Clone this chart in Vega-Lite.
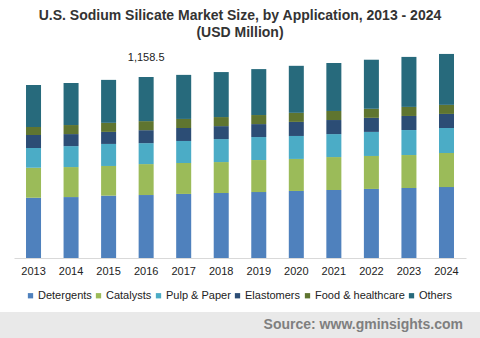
{
  "$schema": "https://vega.github.io/schema/vega-lite/v6.json",
  "padding": {"top": 9, "left": 0, "right": 0, "bottom": 0},
  "background": "white",
  "spacing": 0,
  "center": true,
  "resolve": {"legend": {"color": "independent"}},
  "title": {
    "text": ["U.S. Sodium Silicate Market Size, by Application, 2013 - 2024", "(USD Million)"],
    "font": "Liberation Sans",
    "fontSize": 14,
    "fontWeight": "bold",
    "color": "#333333",
    "anchor": "middle",
    "lineHeight": 17,
    "offset": 3
  },
  "config": {
    "view": {"stroke": null},
    "font": "Liberation Sans"
  },
  "datasets": {
    "market": [
      {"year": "2013", "application": "Detergents", "rank": 1, "value": 386},
      {"year": "2013", "application": "Catalysts", "rank": 2, "value": 192},
      {"year": "2013", "application": "Pulp & Paper", "rank": 3, "value": 126},
      {"year": "2013", "application": "Elastomers", "rank": 4, "value": 83},
      {"year": "2013", "application": "Food & healthcare", "rank": 5, "value": 51},
      {"year": "2013", "application": "Others", "rank": 6, "value": 269},
      {"year": "2014", "application": "Detergents", "rank": 1, "value": 390},
      {"year": "2014", "application": "Catalysts", "rank": 2, "value": 192},
      {"year": "2014", "application": "Pulp & Paper", "rank": 3, "value": 134},
      {"year": "2014", "application": "Elastomers", "rank": 4, "value": 77},
      {"year": "2014", "application": "Food & healthcare", "rank": 5, "value": 58},
      {"year": "2014", "application": "Others", "rank": 6, "value": 269},
      {"year": "2015", "application": "Detergents", "rank": 1, "value": 399},
      {"year": "2015", "application": "Catalysts", "rank": 2, "value": 190},
      {"year": "2015", "application": "Pulp & Paper", "rank": 3, "value": 141},
      {"year": "2015", "application": "Elastomers", "rank": 4, "value": 77},
      {"year": "2015", "application": "Food & healthcare", "rank": 5, "value": 58},
      {"year": "2015", "application": "Others", "rank": 6, "value": 275},
      {"year": "2016", "application": "Detergents", "rank": 1, "value": 403},
      {"year": "2016", "application": "Catalysts", "rank": 2, "value": 198},
      {"year": "2016", "application": "Pulp & Paper", "rank": 3, "value": 134},
      {"year": "2016", "application": "Elastomers", "rank": 4, "value": 83},
      {"year": "2016", "application": "Food & healthcare", "rank": 5, "value": 58},
      {"year": "2016", "application": "Others", "rank": 6, "value": 282.5},
      {"year": "2017", "application": "Detergents", "rank": 1, "value": 410},
      {"year": "2017", "application": "Catalysts", "rank": 2, "value": 198},
      {"year": "2017", "application": "Pulp & Paper", "rank": 3, "value": 141},
      {"year": "2017", "application": "Elastomers", "rank": 4, "value": 83},
      {"year": "2017", "application": "Food & healthcare", "rank": 5, "value": 58},
      {"year": "2017", "application": "Others", "rank": 6, "value": 282},
      {"year": "2018", "application": "Detergents", "rank": 1, "value": 416},
      {"year": "2018", "application": "Catalysts", "rank": 2, "value": 198},
      {"year": "2018", "application": "Pulp & Paper", "rank": 3, "value": 147},
      {"year": "2018", "application": "Elastomers", "rank": 4, "value": 83},
      {"year": "2018", "application": "Food & healthcare", "rank": 5, "value": 58},
      {"year": "2018", "application": "Others", "rank": 6, "value": 288},
      {"year": "2019", "application": "Detergents", "rank": 1, "value": 422},
      {"year": "2019", "application": "Catalysts", "rank": 2, "value": 205},
      {"year": "2019", "application": "Pulp & Paper", "rank": 3, "value": 147},
      {"year": "2019", "application": "Elastomers", "rank": 4, "value": 83},
      {"year": "2019", "application": "Food & healthcare", "rank": 5, "value": 58},
      {"year": "2019", "application": "Others", "rank": 6, "value": 294},
      {"year": "2020", "application": "Detergents", "rank": 1, "value": 429},
      {"year": "2020", "application": "Catalysts", "rank": 2, "value": 205},
      {"year": "2020", "application": "Pulp & Paper", "rank": 3, "value": 147},
      {"year": "2020", "application": "Elastomers", "rank": 4, "value": 90},
      {"year": "2020", "application": "Food & healthcare", "rank": 5, "value": 58},
      {"year": "2020", "application": "Others", "rank": 6, "value": 301},
      {"year": "2021", "application": "Detergents", "rank": 1, "value": 435},
      {"year": "2021", "application": "Catalysts", "rank": 2, "value": 211},
      {"year": "2021", "application": "Pulp & Paper", "rank": 3, "value": 147},
      {"year": "2021", "application": "Elastomers", "rank": 4, "value": 90},
      {"year": "2021", "application": "Food & healthcare", "rank": 5, "value": 58},
      {"year": "2021", "application": "Others", "rank": 6, "value": 307},
      {"year": "2022", "application": "Detergents", "rank": 1, "value": 442},
      {"year": "2022", "application": "Catalysts", "rank": 2, "value": 211},
      {"year": "2022", "application": "Pulp & Paper", "rank": 3, "value": 154},
      {"year": "2022", "application": "Elastomers", "rank": 4, "value": 90},
      {"year": "2022", "application": "Food & healthcare", "rank": 5, "value": 58},
      {"year": "2022", "application": "Others", "rank": 6, "value": 314},
      {"year": "2023", "application": "Detergents", "rank": 1, "value": 448},
      {"year": "2023", "application": "Catalysts", "rank": 2, "value": 211},
      {"year": "2023", "application": "Pulp & Paper", "rank": 3, "value": 160},
      {"year": "2023", "application": "Elastomers", "rank": 4, "value": 90},
      {"year": "2023", "application": "Food & healthcare", "rank": 5, "value": 58},
      {"year": "2023", "application": "Others", "rank": 6, "value": 320},
      {"year": "2024", "application": "Detergents", "rank": 1, "value": 454},
      {"year": "2024", "application": "Catalysts", "rank": 2, "value": 218},
      {"year": "2024", "application": "Pulp & Paper", "rank": 3, "value": 160},
      {"year": "2024", "application": "Elastomers", "rank": 4, "value": 90},
      {"year": "2024", "application": "Food & healthcare", "rank": 5, "value": 58},
      {"year": "2024", "application": "Others", "rank": 6, "value": 326}
    ],
    "labels": [
      {"year": "2016", "total": 1158.5}
    ],
    "footer": [
      {"source": "Source: www.gminsights.com"}
    ]
  },
  "vconcat": [
    {
      "width": 452,
      "height": 215,
      "layer": [
        {
          "data": {"name": "market"},
          "mark": {"type": "bar"},
          "encoding": {
            "x": {
              "field": "year",
              "type": "ordinal",
              "scale": {"paddingInner": 0.6, "paddingOuter": 0.32},
              "axis": {
                "title": null,
                "labelAngle": 0,
                "labelFontSize": 11,
                "labelColor": "#222222",
                "labelPadding": 7,
                "ticks": false,
                "domainColor": "#D9D9D9",
                "domainWidth": 1
              }
            },
            "y": {
              "field": "value",
              "type": "quantitative",
              "aggregate": "sum",
              "stack": "zero",
              "scale": {"domain": [0, 1376], "nice": false},
              "axis": null
            },
            "order": {"field": "rank", "type": "quantitative", "sort": "ascending"},
            "color": {
              "field": "application",
              "type": "nominal",
              "scale": {
                "domain": ["Detergents", "Catalysts", "Pulp & Paper", "Elastomers", "Food & healthcare", "Others"],
                "range": ["#4F81BD", "#9BBB59", "#4BACC6", "#2C4D75", "#5F7530", "#276A7C"]
              },
              "legend": {
                "title": null,
                "orient": "bottom",
                "direction": "horizontal",
                "symbolType": "square",
                "symbolSize": 28,
                "symbolStrokeWidth": 0,
                "labelFontSize": 11,
                "labelColor": "#222222",
                "labelOffset": 2,
                "columnPadding": 1,
                "padding": 11,
                "offset": 3
              }
            }
          }
        },
        {
          "data": {"name": "labels"},
          "mark": {"type": "text", "baseline": "bottom", "dy": -14, "fontSize": 11, "color": "#222222"},
          "encoding": {
            "x": {"field": "year", "type": "ordinal"},
            "y": {"field": "total", "type": "quantitative"},
            "text": {"field": "total", "type": "quantitative", "format": ",.1f"}
          }
        }
      ]
    },
    {
      "width": 480,
      "height": 26,
      "view": {"fill": "#E9E9E9", "stroke": null},
      "data": {"name": "footer"},
      "mark": {"type": "text", "align": "right", "baseline": "middle", "dx": -17, "fontSize": 14, "fontWeight": "bold", "color": "#7F7F7F"},
      "encoding": {
        "x": {"value": "width"},
        "text": {"field": "source", "type": "nominal"}
      }
    }
  ]
}
